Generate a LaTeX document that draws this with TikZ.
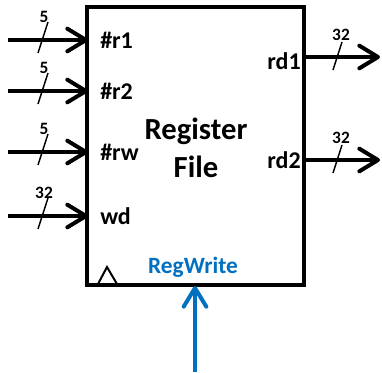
\documentclass[tikz,border=0pt]{standalone}
\usepackage{fontspec}
\setmainfont{Carlito}
\usetikzlibrary{arrows.meta}
\definecolor{regblue}{HTML}{0070C0}
\begin{document}
\begin{tikzpicture}[x=0.75pt,y=-0.75pt,
  bus/.style={line width=3pt,-{Straight Barb[length=14pt,width=17pt,line join=round,line cap=round]}},
  slashln/.style={line width=1.1pt},
  port/.style={font=\bfseries\fontsize{18}{20}\selectfont,inner sep=0pt},
  width/.style={font=\bfseries\fontsize{13}{14}\selectfont,inner sep=0pt}]
\useasboundingbox (0,0) rectangle (382,372);
% register box
\coordinate (tl) at (87,7);
\coordinate (br) at (304,285);
\draw[line width=3pt] (tl) rectangle (br);
% input ports
\foreach \n/\y/\lab/\w in {r1/40/\#r1/5, r2/91/\#r2/5, rw/152/\#rw/5, wd/216/wd/32}{
  \coordinate (in\n) at (8,\y);
  \coordinate (pin\n) at (88,\y);
  \draw[bus] (in\n) -- (pin\n);
  \coordinate (s1\n) at (48,\y-18);
  \coordinate (s2\n) at (38,\y+13);
  \draw[slashln] (s1\n) -- (s2\n);
  \node[width] (w\n) at (44,\y-23) {\w};
  \node[port,anchor=west] (l\n) at (100,\y) {\lab};
}
% output ports
\foreach \n/\y in {1/57, 2/160}{
  \coordinate (pout\n) at (304,\y);
  \coordinate (out\n) at (380,\y);
  \draw[bus] (pout\n) -- (out\n);
  \coordinate (t1\n) at (342,\y-15);
  \coordinate (t2\n) at (333,\y+13);
  \draw[slashln] (t1\n) -- (t2\n);
  \node[width] (wo\n) at (341,\y-22) {32};
}
\node[port,anchor=east] (rd1) at (301,61) {rd1};
\node[port,anchor=east] (rd2) at (301,160) {rd2};
% title
\node[font=\bfseries\fontsize{23}{26}\selectfont,align=center,inner sep=0pt] (title) at (196,148) {Register\\[2pt]File};
% clock triangle
\coordinate (c1) at (98,284);
\coordinate (c2) at (107,267);
\coordinate (c3) at (117,284);
\draw[line width=1.5pt,line join=miter] (c1) -- (c2) -- (c3);
% RegWrite
\node[font=\bfseries\fontsize{17.5}{19}\selectfont,text=regblue,inner sep=0pt] (rw) at (193,267) {RegWrite};
\coordinate (rwbot) at (195,372);
\coordinate (rwtop) at (195,286);
\draw[line width=3pt,regblue,-{Straight Barb[length=14pt,width=17pt,line join=round,line cap=round]}] (rwbot) -- (rwtop);
\end{tikzpicture}
\end{document}
